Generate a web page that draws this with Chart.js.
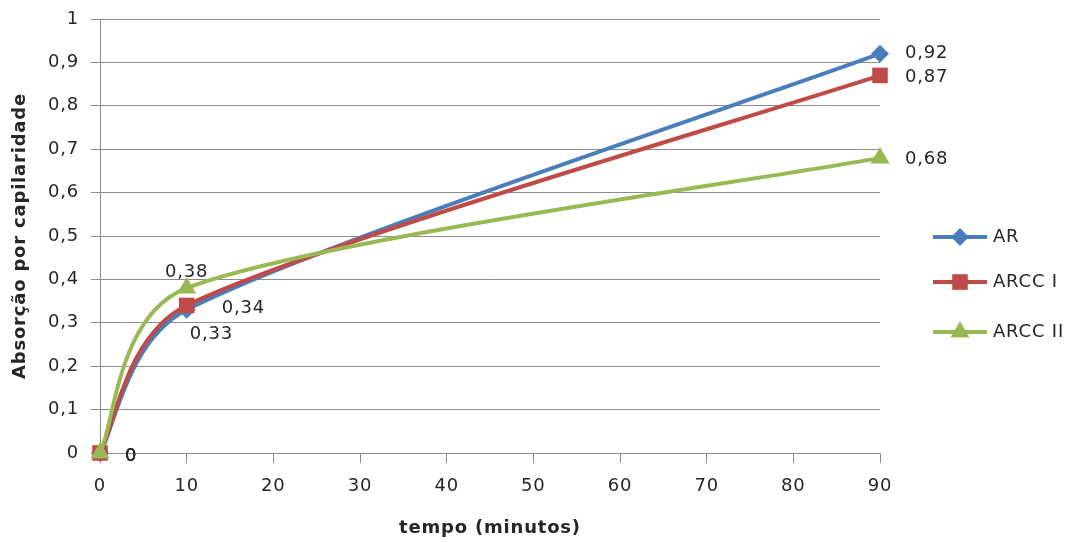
<!DOCTYPE html>
<html>
<head>
<meta charset="utf-8">
<script src="https://cdn.jsdelivr.net/npm/chart.js@4.4.1/dist/chart.umd.min.js"></script>
<style>
  html, body { margin: 0; padding: 0; background: #fff; }
  #wrap { width: 1077px; height: 542px; }
</style>
</head>
<body>
<div id="wrap"><canvas id="grafico" width="1077" height="542"></canvas></div>
<script>
// dados
var tempo = [0, 10, 90];
var serieAR = [0, 0.33, 0.92];
var serieARCC1 = [0, 0.34, 0.87];
var serieARCC2 = [0, 0.38, 0.68];
var nomesSeries = ['AR', 'ARCC I', 'ARCC II'];
var ticksX = [0, 10, 20, 30, 40, 50, 60, 70, 80, 90];
var ticksY = [0, 0.1, 0.2, 0.3, 0.4, 0.5, 0.6, 0.7, 0.8, 0.9, 1];

var cores = ['#4A7EBB', '#BE4B48', '#98B954'];
var marcadores = ['rectRot', 'rect', 'triangle'];
var raios = [9, 11, 11];
var corGrade = '#8c8c8c';
var corTexto = '#262626';
var fonte = 'DejaVu Sans';
var tamFonte = 18;
var espacamento = '0.8px';
var limiteCurva = 0.4; // fracao do segmento usada como limite do controle

// deslocamento dos rotulos de dados (dx, dy, alinhamento) por serie e ponto
var posRotulos = [
  [[25, 3, 'left'], [3, 25, 'left'], [25, 0, 'left']],
  [[25, 3, 'left'], [35, 3, 'left'], [25, 2, 'left']],
  [[25, 3, 'left'], [0, -16, 'center'], [25, 1, 'left']]
];

function virgula(v) {
  return String(Math.round(v * 100) / 100).replace('.', ',');
}

function pontos(ys) {
  return tempo.map(function (t, i) { return { x: t, y: ys[i] }; });
}

var valores = [serieAR, serieARCC1, serieARCC2];

var datasets = valores.map(function (ys, k) {
  return {
    label: nomesSeries[k],
    data: pontos(ys),
    borderColor: cores[k],
    backgroundColor: cores[k],
    borderWidth: 4,
    pointStyle: marcadores[k],
    pointRadius: raios[k],
    pointHoverRadius: raios[k],
    pointBorderWidth: 0,
    tension: 0.4,
    clip: false,
    order: 3 - k
  };
});

// espacamento entre letras (o contexto perde o estado quando o canvas muda)
var pluginLetras = {
  id: 'letras',
  beforeUpdate: function (chart) { chart.ctx.letterSpacing = espacamento; },
  beforeDraw: function (chart) { chart.ctx.letterSpacing = espacamento; }
};

// suavizacao parecida com a do Excel
function dist(a, b) { return Math.hypot(b.x - a.x, b.y - a.y); }
function limitar(vx, vy, max) {
  var l = Math.hypot(vx, vy);
  if (l > max && l > 0) { vx *= max / l; vy *= max / l; }
  return [vx, vy];
}
var pluginSuave = {
  id: 'suave',
  afterDatasetsUpdate: function (chart) {
    chart.getSortedVisibleDatasetMetas().forEach(function (meta) {
      var pts = meta.data;
      var n = pts.length;
      for (var i = 0; i < n - 1; i++) {
        var p0 = pts[Math.max(i - 1, 0)], p1 = pts[i], p2 = pts[i + 1], p3 = pts[Math.min(i + 2, n - 1)];
        var lim = dist(p1, p2) * limiteCurva;
        var a = limitar((p2.x - p0.x) / 6, (p2.y - p0.y) / 6, lim);
        var b = limitar((p3.x - p1.x) / 6, (p3.y - p1.y) / 6, lim);
        p1.cp2x = p1.x + a[0]; p1.cp2y = p1.y + a[1];
        p2.cp1x = p2.x - b[0]; p2.cp1y = p2.y - b[1];
      }
      pts[0].cp1x = pts[0].x; pts[0].cp1y = pts[0].y;
      pts[n - 1].cp2x = pts[n - 1].x; pts[n - 1].cp2y = pts[n - 1].y;
      meta.dataset._pointsUpdated = true;
      meta.dataset._path = undefined;
    });
  }
};

function marcador(ctx, estilo, x, y, r) {
  ctx.beginPath();
  if (estilo === 'rectRot') {
    ctx.moveTo(x, y - r); ctx.lineTo(x + r, y); ctx.lineTo(x, y + r); ctx.lineTo(x - r, y);
  } else if (estilo === 'rect') {
    var s = r * Math.SQRT1_2;
    ctx.rect(x - s, y - s, 2 * s, 2 * s);
  } else {
    ctx.moveTo(x, y - r); ctx.lineTo(x + r * 0.866, y + r * 0.5); ctx.lineTo(x - r * 0.866, y + r * 0.5);
  }
  ctx.closePath();
  ctx.fill();
}

// rotulos de dados e legenda
var pluginRotulos = {
  id: 'rotulos',
  afterDatasetsDraw: function (chart) {
    var ctx = chart.ctx;
    ctx.save();
    ctx.letterSpacing = espacamento;
    ctx.font = tamFonte + 'px "' + fonte + '"';
    ctx.fillStyle = corTexto;
    ctx.textBaseline = 'middle';
    chart.data.datasets.forEach(function (ds, k) {
      var meta = chart.getDatasetMeta(k);
      meta.data.forEach(function (pt, i) {
        var p = posRotulos[k][i];
        ctx.textAlign = p[2];
        ctx.fillText(virgula(ds.data[i].y), pt.x + p[0], pt.y + p[1]);
      });
    });

    // legenda
    var ys = [237, 282, 332];
    chart.data.datasets.forEach(function (ds, k) {
      var y = ys[k];
      ctx.strokeStyle = cores[k];
      ctx.fillStyle = cores[k];
      ctx.lineWidth = 4;
      ctx.beginPath();
      ctx.moveTo(933, y); ctx.lineTo(987, y);
      ctx.stroke();
      marcador(ctx, marcadores[k], 960, y, raios[k]);
      ctx.fillStyle = corTexto;
      ctx.textAlign = 'left';
      ctx.fillText(ds.label, 993, y);
    });
    ctx.restore();
  }
};

new Chart(document.getElementById('grafico'), {
  type: 'line',
  data: { datasets: datasets },
  plugins: [pluginLetras, pluginSuave, pluginRotulos],
  options: {
    responsive: false,
    animation: false,
    devicePixelRatio: 1,
    layout: { padding: { top: 19, right: 197, left: 0, bottom: 0 } },
    plugins: { legend: { display: false }, tooltip: { enabled: false } },
    scales: {
      x: {
        type: 'linear',
        min: 0,
        max: 90,
        afterBuildTicks: function (s) { s.ticks = ticksX.map(function (v) { return { value: v }; }); },
        afterFit: function (s) { s.height = 89; s.paddingLeft = 0; s.paddingRight = 0; },
        grid: { drawOnChartArea: false, drawTicks: true, tickLength: 10, color: corGrade },
        border: { display: true, color: corGrade },
        ticks: { color: corTexto, font: { family: fonte, size: tamFonte }, padding: 13, maxRotation: 0 },
        title: {
          display: true,
          text: 'tempo (minutos)',
          color: corTexto,
          font: { family: fonte, size: tamFonte, weight: 'bold' },
          padding: { top: 0, bottom: 3 }
        }
      },
      y: {
        type: 'linear',
        min: 0,
        max: 1,
        afterBuildTicks: function (s) { s.ticks = ticksY.map(function (v) { return { value: v }; }); },
        afterFit: function (s) { s.width = 100; s.paddingTop = 0; s.paddingBottom = 0; },
        grid: { color: corGrade, tickLength: 9 },
        border: { display: true, color: corGrade },
        ticks: {
          color: corTexto,
          font: { family: fonte, size: tamFonte },
          padding: 12,
          callback: function (v) { return virgula(v); }
        },
        title: {
          display: true,
          text: 'Absorção por capilaridade',
          color: corTexto,
          font: { family: fonte, size: tamFonte, weight: 'bold' },
          padding: { top: 10, bottom: 0 }
        }
      }
    }
  }
});
</script>
</body>
</html>
